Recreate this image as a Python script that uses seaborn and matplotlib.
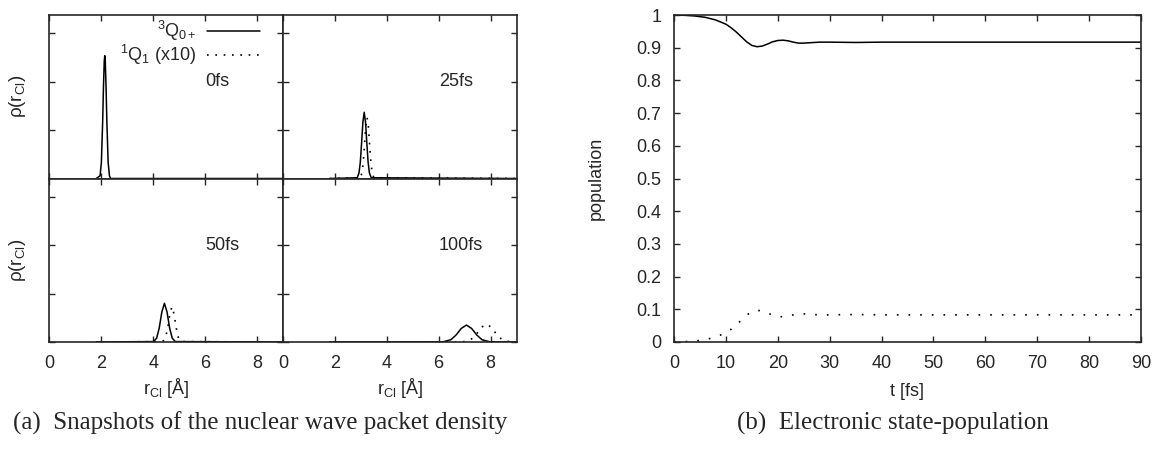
import matplotlib
matplotlib.use('Agg')
import matplotlib.pyplot as plt
import seaborn as sns

# wave packet snapshots: r_Cl [A] and density, 3Q0+ (solid) and 1Q1 x10 (dotted)
r_q0_0fs = [1.8, 1.95, 2.0, 2.05, 2.08, 2.11, 2.13, 2.15, 2.18, 2.21, 2.26, 2.31, 2.36, 9.0]
q0_0fs = [0, 0.055, 0.34, 1.19, 1.89, 2.42, 2.54, 2.42, 1.89, 1.19, 0.34, 0.055, 0, 0]
r_q1_0fs = [1.8, 9.0]
q1_0fs = [0, 0]

r_q0_25fs = [1.8, 2.86, 2.93, 2.98, 3.03, 3.08, 3.13, 3.18, 3.23, 3.28, 3.33, 3.40, 9.0]
q0_25fs = [0, 0.015, 0.116, 0.34, 0.74, 1.17, 1.37, 1.17, 0.74, 0.34, 0.116, 0.015, 0]
r_q1_25fs = [1.8, 2.98, 3.04, 3.09, 3.14, 3.19, 3.24, 3.29, 3.34, 3.39, 3.44, 3.50, 9.0]
q1_25fs = [0, 0.015, 0.11, 0.31, 0.68, 1.08, 1.26, 1.08, 0.68, 0.31, 0.11, 0.015, 0]

r_q0_50fs = [1.8, 4.01, 4.13, 4.23, 4.33, 4.43, 4.53, 4.63, 4.73, 4.85, 9.0]
q0_50fs = [0, 0.009, 0.08, 0.29, 0.62, 0.80, 0.62, 0.29, 0.08, 0.009, 0]
r_q1_50fs = [1.8, 4.36, 4.47, 4.56, 4.64, 4.72, 4.80, 4.88, 4.97, 5.08, 9.0]
q1_50fs = [0, 0.008, 0.083, 0.30, 0.58, 0.73, 0.58, 0.30, 0.083, 0.008, 0]

r_q0_100fs = [1.8, 6.17, 6.47, 6.67, 6.87, 7.07, 7.27, 7.47, 7.67, 7.97, 9.0]
q0_100fs = [0, 0.004, 0.047, 0.144, 0.28, 0.35, 0.28, 0.144, 0.047, 0.004, 0]
r_q1_100fs = [1.8, 6.94, 7.24, 7.44, 7.64, 7.84, 8.04, 8.24, 8.44, 8.74, 9.0]
q1_100fs = [0, 0.004, 0.05, 0.15, 0.30, 0.37, 0.30, 0.15, 0.05, 0.004, 0]

snapshot_labels = ['0fs', '25fs', '50fs', '100fs']

# electronic state populations
t_fs = [0, 2, 4, 6, 8, 10, 11, 12, 13, 14, 15, 16, 17, 18, 19, 20, 21, 22, 23, 24,
        25, 26, 28, 30, 35, 40, 90]
pop_q0 = [1.0, 0.999, 0.997, 0.993, 0.985, 0.972, 0.961, 0.948, 0.933, 0.918, 0.907,
          0.903, 0.905, 0.911, 0.918, 0.922, 0.923, 0.921, 0.917, 0.914, 0.914, 0.915,
          0.917, 0.917, 0.916, 0.917, 0.917]
pop_q1 = [0, 0.001, 0.003, 0.007, 0.015, 0.028, 0.039, 0.052, 0.067, 0.082, 0.093,
          0.097, 0.095, 0.089, 0.082, 0.078, 0.077, 0.079, 0.083, 0.086, 0.086, 0.085,
          0.083, 0.083, 0.084, 0.083, 0.083]

sns.set_theme(style='ticks')
plt.rcParams['font.family'] = ['Liberation Sans', 'DejaVu Sans']
plt.rcParams['mathtext.fontset'] = 'custom'
plt.rcParams['mathtext.rm'] = 'Liberation Sans'
plt.rcParams['mathtext.it'] = 'Liberation Sans:italic'
plt.rcParams['font.size'] = 13
plt.rcParams['axes.linewidth'] = 1.2

fig = plt.figure(figsize=(11.56, 4.5), dpi=100)

left_w = 233.5 / 1156
h = 163.5 / 450
boxes = [
    [49.5 / 1156, 0.24 + h, left_w, h],
    [283 / 1156, 0.24 + h, left_w, h],
    [49.5 / 1156, 0.24, left_w, h],
    [283 / 1156, 0.24, left_w, h],
]
snapshots = [
    (r_q0_0fs, q0_0fs, r_q1_0fs, q1_0fs),
    (r_q0_25fs, q0_25fs, r_q1_25fs, q1_25fs),
    (r_q0_50fs, q0_50fs, r_q1_50fs, q1_50fs),
    (r_q0_100fs, q0_100fs, r_q1_100fs, q1_100fs),
]
dots_left = (0, (1, 4))
rho_label = 'ρ(r$_\\mathregular{Cl}$)'
r_label = 'r$_\\mathregular{Cl}$ [Å]'

for i, (box, snap, lab) in enumerate(zip(boxes, snapshots, snapshot_labels)):
    ax = fig.add_axes(box)
    r0, q0, r1, q1 = snap
    sns.lineplot(x=r0, y=q0, ax=ax, color='black', linewidth=1.1,
                 label='$^\\mathregular{3}$Q$_\\mathregular{0+}$')
    sns.lineplot(x=r1, y=q1, ax=ax, color='black', linewidth=1.2, linestyle=dots_left,
                 label='$^\\mathregular{1}$Q$_\\mathregular{1}$ (x10)')
    ax.set_xlim(0, 9)
    ax.set_ylim(0, 3.38)
    ax.set_xticks([0, 2, 4, 6, 8])
    ax.set_yticks([0, 1, 2, 3])
    ax.tick_params(direction='in', top=True, right=True, length=4.5, width=1,
                   labelsize=13, pad=9, labelleft=False)
    ax.text(6.0, 2.0, lab, ha='left', va='center', fontsize=13)
    if i < 2:
        ax.tick_params(labelbottom=False)
        ax.set_xlabel('')
    else:
        ax.set_xlabel(r_label, fontsize=13)
        ax.xaxis.set_label_coords(0.5, -0.21)
    if i % 2 == 0:
        ax.set_ylabel(rho_label, fontsize=13.5)
        ax.yaxis.set_label_coords(-0.092, 0.5)
    else:
        ax.set_ylabel('')
    if i == 0:
        ax.legend(loc='upper right', bbox_to_anchor=(0.9, 0.975), frameon=False,
                  markerfirst=False, handlelength=2.9, borderpad=0, borderaxespad=0,
                  labelspacing=0.0, handletextpad=0.6, fontsize=13)
    else:
        ax.get_legend().remove()

# population panel
axp = fig.add_axes([674 / 1156, 1 - 342 / 450, 467 / 1156, 327 / 450])
sns.lineplot(x=t_fs, y=pop_q0, ax=axp, color='black', linewidth=1.1)
sns.lineplot(x=t_fs, y=pop_q1, ax=axp, color='black', linewidth=1.2,
             linestyle=(0, (1, 6)))
axp.set_xlim(0, 90)
axp.set_ylim(0, 1)
axp.set_xticks(range(0, 91, 10))
yt = [0, 0.1, 0.2, 0.3, 0.4, 0.5, 0.6, 0.7, 0.8, 0.9, 1]
axp.set_yticks(yt)
axp.set_yticklabels(['0', '0.1', '0.2', '0.3', '0.4', '0.5', '0.6', '0.7', '0.8', '0.9', '1'])
axp.tick_params(direction='in', top=True, right=True, length=4.5, width=1,
                labelsize=13, pad=9)
axp.set_xlabel('t [fs]', fontsize=13)
axp.xaxis.set_label_coords(0.5, -0.125)
axp.set_ylabel('population', fontsize=13)
axp.yaxis.set_label_coords(-0.148, 0.5)

fig.text(260 / 1156, 1 - 423 / 450, '(a)  Snapshots of the nuclear wave packet density',
         family='Liberation Serif', fontsize=18, ha='center', va='center')
fig.text(893 / 1156, 1 - 423 / 450, '(b)  Electronic state-population',
         family='Liberation Serif', fontsize=18, ha='center', va='center')

fig.savefig('out.png', dpi=100)
